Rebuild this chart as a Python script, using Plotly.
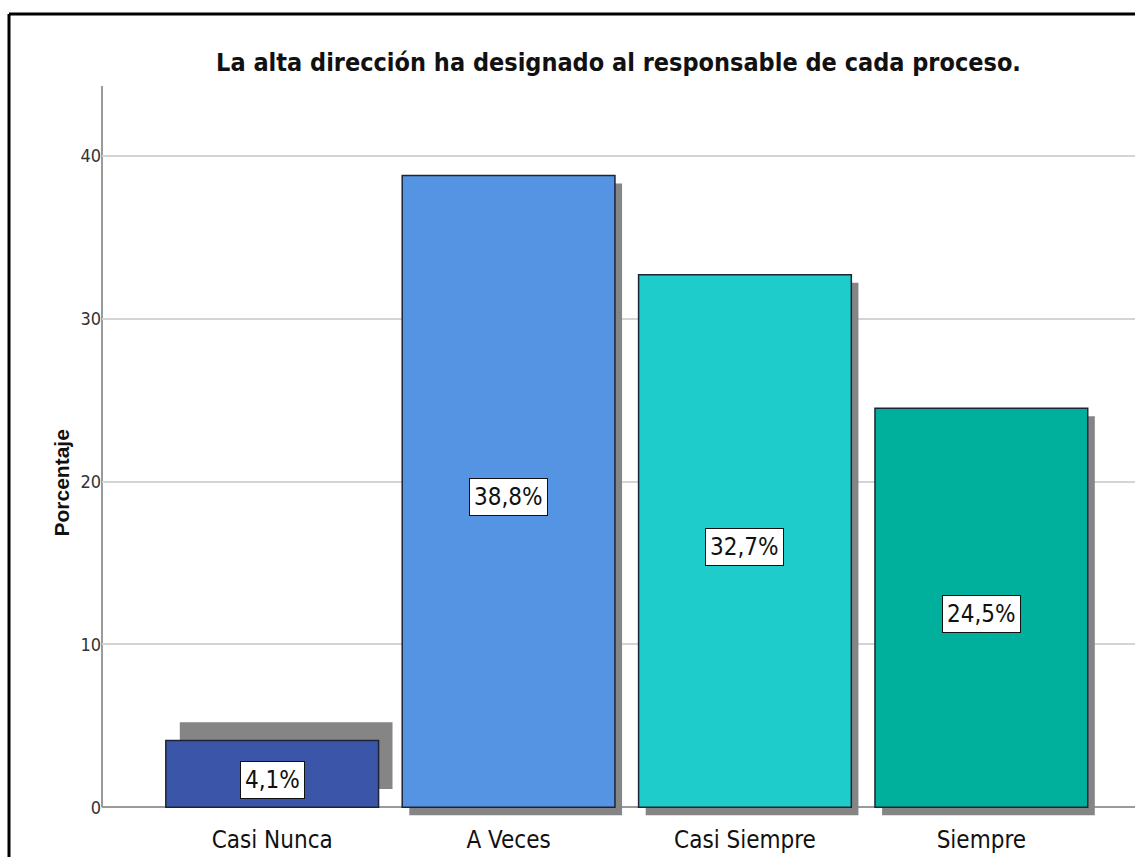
import plotly.graph_objects as go

categorias = ["Casi Nunca", "A Veces", "Casi Siempre", "Siempre"]
porcentajes = [4.1, 38.8, 32.7, 24.5]
etiquetas = ["4,1%", "38,8%", "32,7%", "24,5%"]
y_ticks = [0, 10, 20, 30, 40]

colores = ["#3b56a8", "#5494e3", "#1ecccc", "#00b09c"]
# sombra de cada barra (desplazamiento en unidades de eje)
sombra_dx = [0.059, 0.03, 0.03, 0.03]
sombra_dy = [1.12, -0.49, -0.49, -0.49]

W, H = 1135, 857
ML, MR, MT, MB = 102, 0, 86, 40
NARROW = "DejaVu Sans Condensed, Liberation Sans Narrow, sans-serif"
SANS = "Liberation Sans, Arial, sans-serif"

pos = list(range(len(categorias)))

fig = go.Figure()

# sombras grises
fig.add_trace(go.Bar(
    x=[p + dx for p, dx in zip(pos, sombra_dx)],
    y=porcentajes,
    base=sombra_dy,
    width=0.9,
    marker=dict(color="#858585", line=dict(width=0)),
    hoverinfo="skip",
    showlegend=False,
))

# barras
fig.add_trace(go.Bar(
    x=pos,
    y=porcentajes,
    width=0.9,
    marker=dict(color=colores, line=dict(color="#1c2436", width=1.5)),
    showlegend=False,
))

for p, v, t in zip(pos, porcentajes, etiquetas):
    fig.add_annotation(
        x=p, y=v / 2, text=t, showarrow=False, yshift=-6,
        font=dict(family=NARROW, size=24, color="#111111"),
        bgcolor="white", bordercolor="#111111", borderwidth=1, borderpad=4,
    )

plot_w = W - ML - MR
plot_h = H - MT - MB

# eje y (solo desde 0 hacia arriba)
fig.add_shape(type="line", xref="paper", yref="y", x0=0, x1=0, y0=0, y1=44.3,
              line=dict(color="#9a9a9a", width=2), layer="below")

# marco negro de la imagen
fx = (9 - ML) / plot_w
fy = 1 + (MT - 14) / plot_h
fig.add_shape(type="line", xref="paper", yref="paper", x0=fx, x1=fx, y0=fy, y1=-1,
              line=dict(color="black", width=3))
fig.add_shape(type="line", xref="paper", yref="paper", x0=fx, x1=1.05, y0=fy, y1=fy,
              line=dict(color="black", width=3))

fig.add_annotation(
    xref="paper", yref="paper", x=(47 - ML) / plot_w, y=(H - MB - 483) / plot_h,
    text="<b>Porcentaje</b>", textangle=-90, showarrow=False,
    font=dict(family=SANS, size=21, color="#111111"),
)

fig.update_layout(
    width=W, height=H,
    margin=dict(l=ML, r=MR, t=MT, b=MB),
    paper_bgcolor="white", plot_bgcolor="white",
    barmode="overlay",
    title=dict(
        text="<b>La alta dirección ha designado al responsable de cada proceso.</b>",
        x=0.5, xref="paper", y=1 - 62 / H, yanchor="middle",
        font=dict(family=NARROW, size=25, color="#111111"),
    ),
    xaxis=dict(
        range=[-0.72, 3.65],
        tickvals=pos, ticktext=categorias,
        showgrid=False, showline=False, zeroline=False,
        ticks="", ticklabelstandoff=6,
        tickfont=dict(family=NARROW, size=24, color="#111111"),
    ),
    yaxis=dict(
        range=[-0.6, 44.3],
        tickvals=y_ticks,
        showgrid=True, gridcolor="#d4d4d4", gridwidth=2,
        zeroline=True, zerolinecolor="#9a9a9a", zerolinewidth=2,
        showline=False, ticks="",
        tickfont=dict(family=NARROW, size=18, color="#333333"),
    ),
)

fig.write_html("out.html", config={"displayModeBar": False},
               post_script="document.body.style.margin='0';")
